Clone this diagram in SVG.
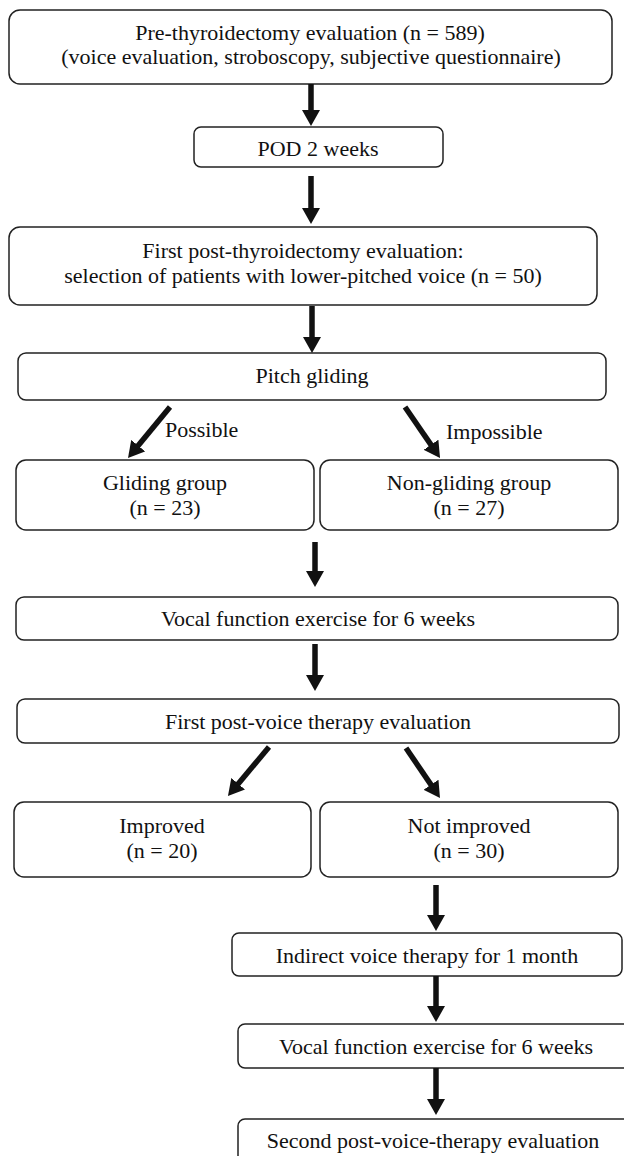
<svg xmlns="http://www.w3.org/2000/svg" width="624" height="1156" viewBox="0 0 624 1156">
<style>
.box{fill:#fff;stroke:#222;stroke-width:1.5}
.t{font-family:"Liberation Serif","Times New Roman",serif;font-size:22px;fill:#111;text-anchor:middle}
.lbl{font-family:"Liberation Serif","Times New Roman",serif;font-size:22px;fill:#111}
.arr{stroke:#111;stroke-width:5.5;fill:none;marker-end:url(#ah)}
</style>
<defs>
<marker id="ah" viewBox="0 0 16 18" refX="8" refY="9" markerWidth="16" markerHeight="18" markerUnits="userSpaceOnUse" orient="auto">
<path d="M0,0 L16,9 L0,18 z" fill="#111"/>
</marker>
</defs>
<rect width="624" height="1156" fill="#fff"/>
<g id="n1"><rect class="box" x="9" y="10" width="603" height="74" rx="11"/>
<text class="t" x="310" y="40">Pre-thyroidectomy evaluation (n = 589)</text>
<text class="t" x="311" y="64">(voice evaluation, stroboscopy, subjective questionnaire)</text></g>
<g id="n2"><rect class="box" x="194" y="127" width="249" height="40" rx="7"/>
<text class="t" x="318" y="156">POD 2 weeks</text></g>
<g id="n3"><rect class="box" x="9" y="227" width="588" height="78" rx="11"/>
<text class="t" x="303" y="258">First post-thyroidectomy evaluation:</text>
<text class="t" x="303" y="283">selection of patients with lower-pitched voice (n = 50)</text></g>
<g id="n4"><rect class="box" x="18" y="353" width="588" height="47" rx="8"/>
<text class="t" x="312" y="383">Pitch gliding</text></g>
<g id="n5"><rect class="box" x="16" y="460" width="298" height="70" rx="10"/>
<text class="t" x="165" y="490">Gliding group</text>
<text class="t" x="165" y="515">(n = 23)</text></g>
<g id="n6"><rect class="box" x="320" y="460" width="298" height="70" rx="10"/>
<text class="t" x="469" y="490">Non-gliding group</text>
<text class="t" x="469" y="515">(n = 27)</text></g>
<g id="n7"><rect class="box" x="16" y="597" width="602" height="43" rx="8"/>
<text class="t" x="318" y="626">Vocal function exercise for 6 weeks</text></g>
<g id="n8"><rect class="box" x="17" y="699" width="602" height="44" rx="8"/>
<text class="t" x="318" y="729">First post-voice therapy evaluation</text></g>
<g id="n9"><rect class="box" x="14" y="802" width="297" height="75" rx="10"/>
<text class="t" x="162" y="833">Improved</text>
<text class="t" x="162" y="858">(n = 20)</text></g>
<g id="n10"><rect class="box" x="320" y="802" width="298" height="75" rx="10"/>
<text class="t" x="469" y="833">Not improved</text>
<text class="t" x="469" y="858">(n = 30)</text></g>
<g id="n11"><rect class="box" x="232" y="933" width="390" height="43" rx="7"/>
<text class="t" x="427" y="963">Indirect voice therapy for 1 month</text></g>
<g id="n12"><rect class="box" x="238" y="1024" width="400" height="44" rx="7"/>
<text class="t" x="436" y="1054">Vocal function exercise for 6 weeks</text></g>
<g id="n13"><rect class="box" x="238" y="1119" width="400" height="60" rx="7"/>
<text class="t" x="433" y="1148">Second post-voice-therapy evaluation</text></g>
<g id="connectors">
<line class="arr" x1="311" y1="84" x2="311" y2="118"/>
<line class="arr" x1="311" y1="176" x2="311" y2="216"/>
<line class="arr" x1="312" y1="306" x2="312" y2="345"/>
<line class="arr" x1="170" y1="407" x2="133.1" y2="451.8"/>
<line class="arr" x1="405" y1="407" x2="435.5" y2="451.4"/>
<line class="arr" x1="315" y1="542" x2="315" y2="579"/>
<line class="arr" x1="315" y1="644" x2="315" y2="683"/>
<line class="arr" x1="269" y1="747" x2="233.1" y2="789.9"/>
<line class="arr" x1="406" y1="748" x2="435.5" y2="791.4"/>
<line class="arr" x1="436" y1="885" x2="436" y2="923"/>
<line class="arr" x1="436" y1="976" x2="436" y2="1014"/>
<line class="arr" x1="436" y1="1068" x2="436" y2="1107"/>
<text class="lbl" x="165" y="437">Possible</text>
<text class="lbl" x="446" y="439">Impossible</text>
</g>
</svg>
